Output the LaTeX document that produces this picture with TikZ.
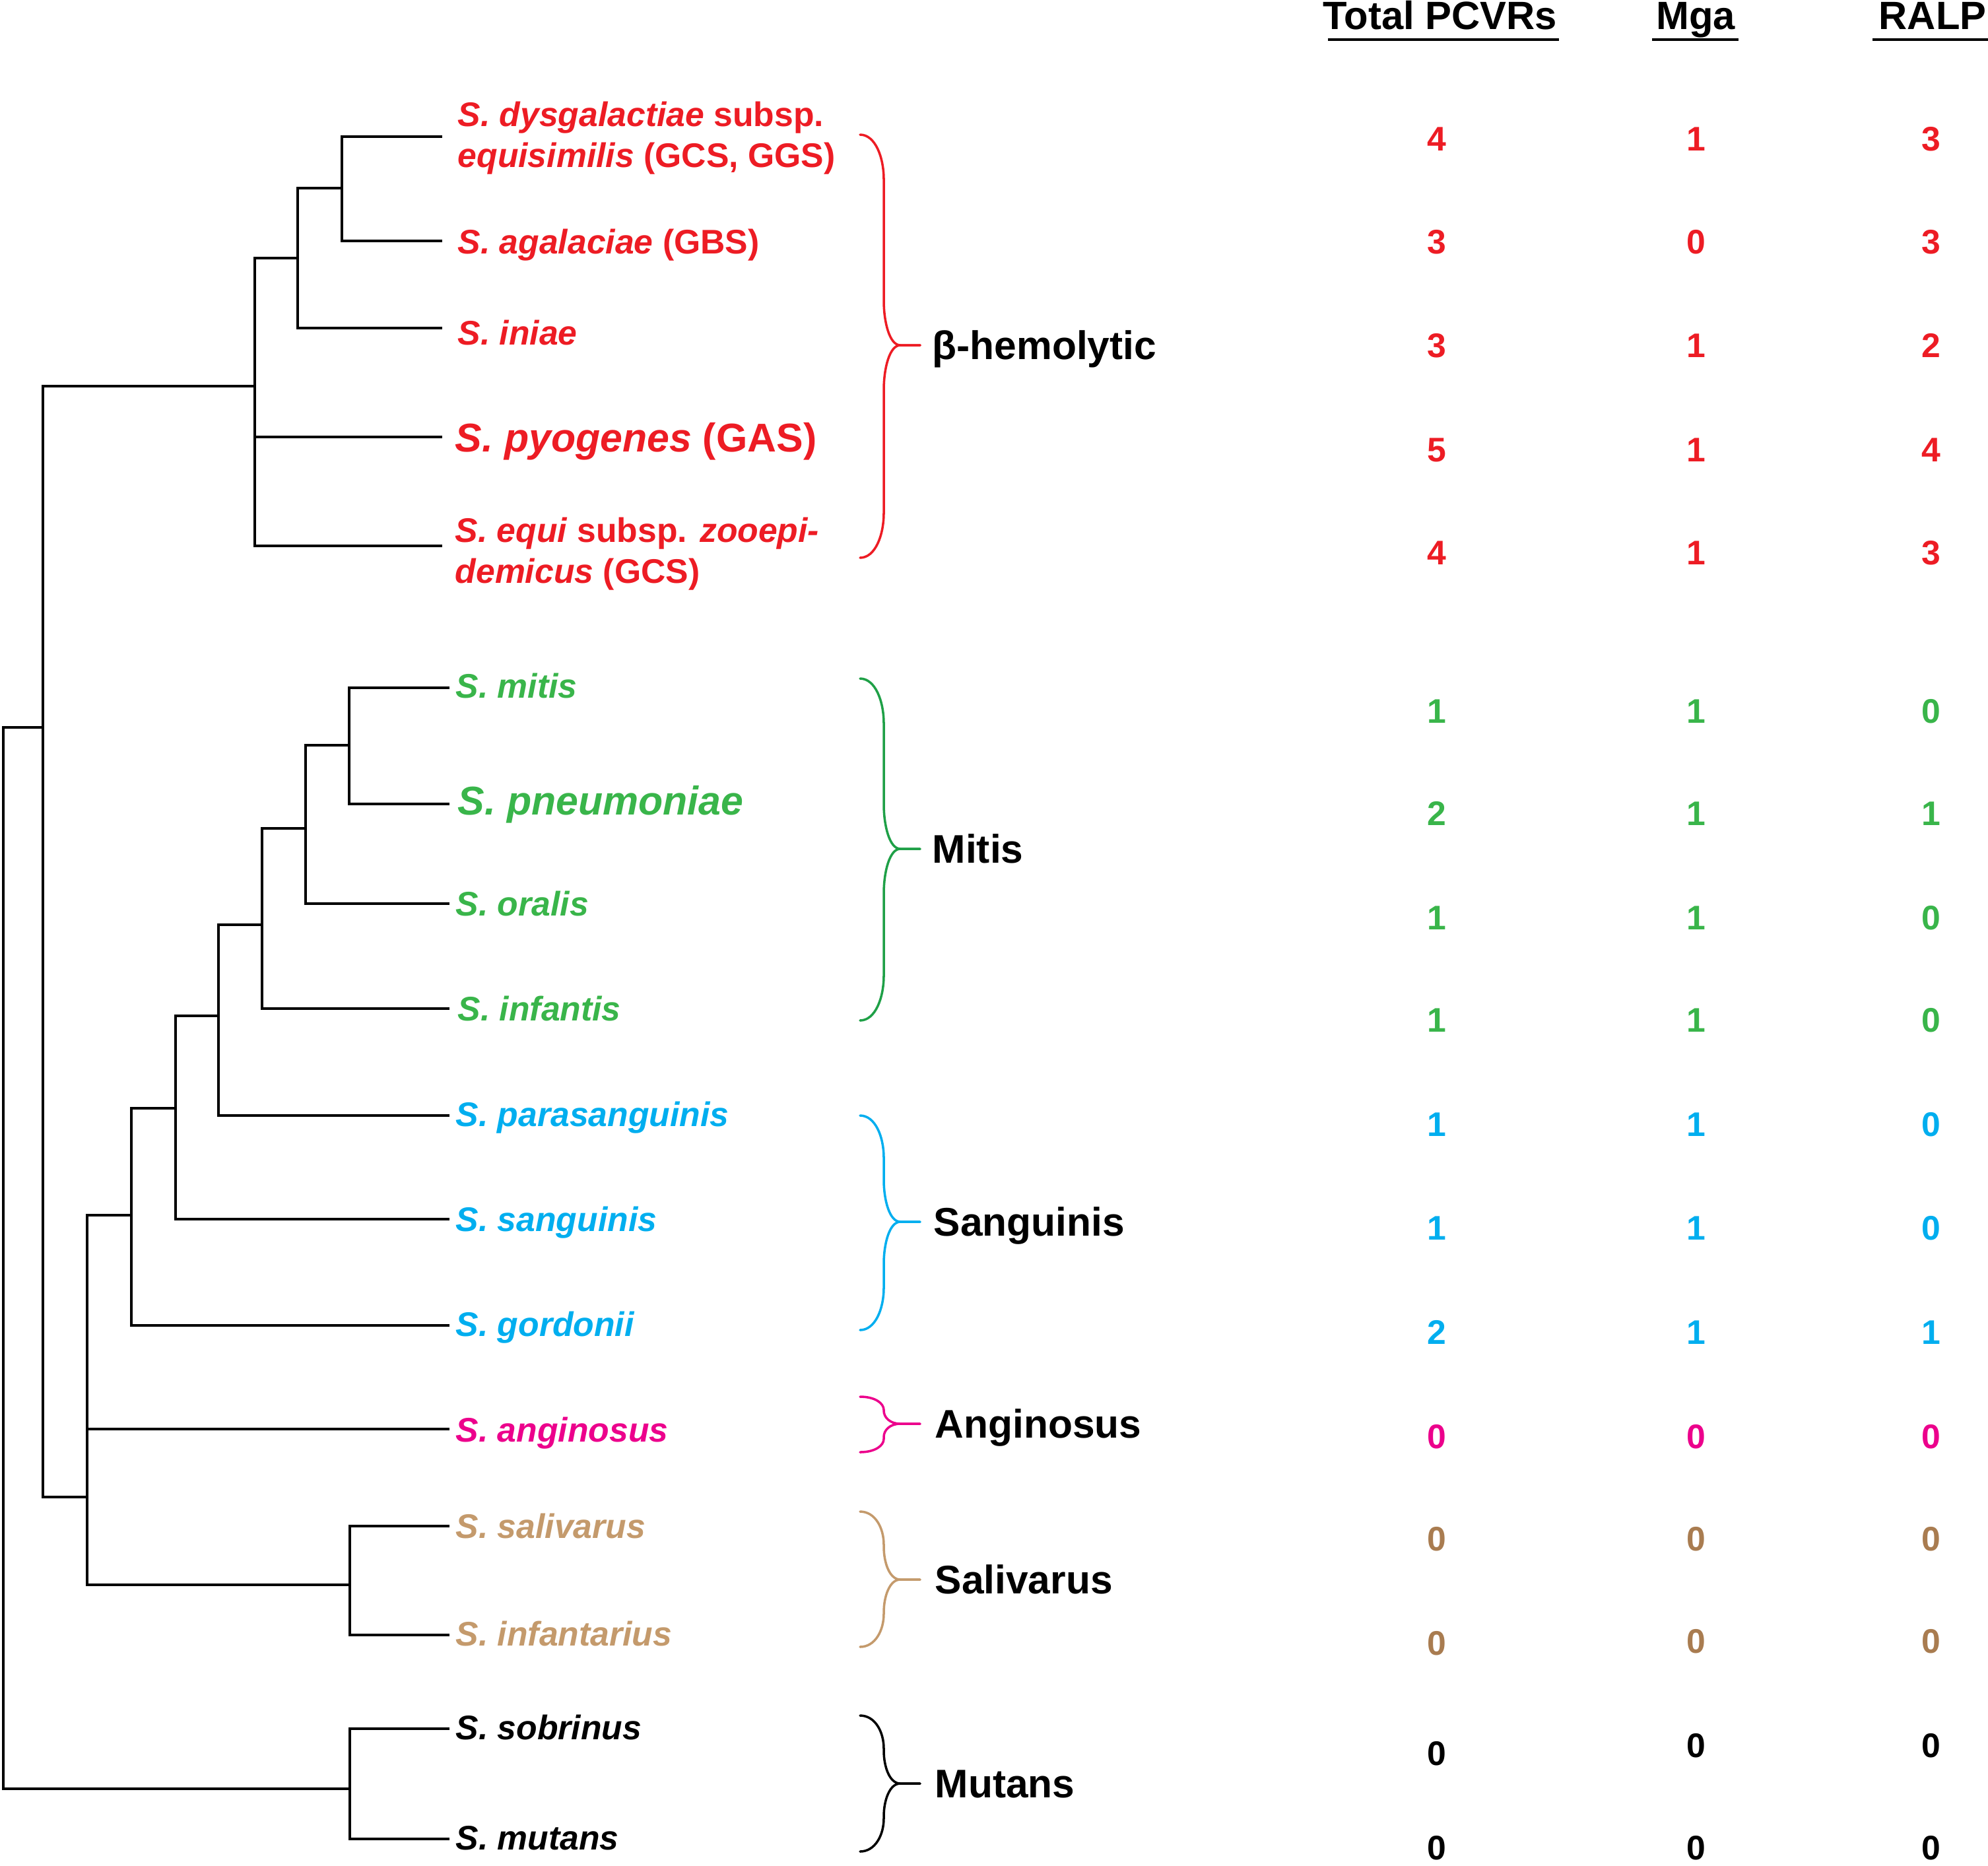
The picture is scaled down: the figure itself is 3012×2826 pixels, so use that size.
\documentclass[tikz,border=0pt]{standalone}
\usepackage{fontspec}
\setmainfont{Liberation Sans}
\definecolor{cred}{HTML}{ED1C24}
\definecolor{cgreen}{HTML}{39B54A}
\definecolor{cgreenb}{HTML}{1FA047}
\definecolor{cblue}{HTML}{00AEEF}
\definecolor{cmag}{HTML}{EC008C}
\definecolor{ctan}{HTML}{C49A6C}
\definecolor{ctann}{HTML}{A97C50}
\newcommand\fSp{\fontsize{14.7pt}{17.4pt}\selectfont\bfseries}
\newcommand\fSpBig{\fontsize{17.3pt}{20pt}\selectfont\bfseries}
\newcommand\fGrp{\fontsize{17.2pt}{20pt}\selectfont\bfseries}
\newcommand\fNum{\fontsize{14.7pt}{17.4pt}\selectfont\bfseries}
\newcommand\fHdr{\fontsize{17pt}{20pt}\selectfont\bfseries}
\newcommand\grpbrace[5]{%
 \draw[brc,#1] (1303,#2) .. controls (1326,#2) and (1339,{#2+#5}) .. (1339,{#2+2*#5}) -- (1339,{#3-2*#5}) .. controls (1339,{#3-#5}) and (1348,#3) .. (1364,#3) -- (1394,#3);
 \draw[brc,#1] (1303,#4) .. controls (1326,#4) and (1339,{#4-#5}) .. (1339,{#4-2*#5}) -- (1339,{#3+2*#5}) .. controls (1339,{#3+#5}) and (1348,#3) .. (1364,#3) -- (1394,#3);
}
\begin{document}
\begin{tikzpicture}[x=0.01cm, y=-0.01cm,
  tree/.style={line width=1.15pt, line cap=rect},
  brc/.style={line width=1.0pt, line cap=round},
  sp/.style={anchor=west, inner sep=0pt, text height=10.2pt, text depth=0pt, font=\fSp},
  spml/.style={anchor=base west, inner sep=0pt, align=left, font=\fSp},
  spbig/.style={anchor=west, inner sep=0pt, text height=12pt, text depth=0pt, font=\fSpBig},
  grp/.style={anchor=west, inner sep=0pt, text height=12pt, text depth=0pt, font=\fGrp},
  num/.style={anchor=center, inner sep=0pt, text height=10.2pt, text depth=0pt, font=\fNum},
  hdr/.style={anchor=base, inner sep=0pt, font=\fHdr},
  uline/.style={line width=1.2pt}]
\useasboundingbox (0,0) rectangle (3012,2826);
\fill[white] (0,0) rectangle (3012,2826);

% ---- headers
\node[hdr] (h1) at (2182,44) {Total PCVRs};
\node[hdr] (h2) at (2569,44) {Mga};
\node[hdr,anchor=base west] (h3) at (2846,44) {RALP};
\draw[uline] (2012,60) -- (2362,60);
\draw[uline] (2503,60) -- (2634,60);
\draw[uline] (2837,60) -- (3012,60);

% ---- leaf ends
\coordinate (l1) at (668,207);
\coordinate (l2) at (668,365);
\coordinate (l3) at (668,497);
\coordinate (l4) at (668,662);
\coordinate (l5) at (668,827);
\coordinate (l6) at (679,1042);
\coordinate (l7) at (679,1218);
\coordinate (l8) at (679,1369);
\coordinate (l9) at (679,1528);
\coordinate (l10) at (679,1690);
\coordinate (l11) at (679,1847);
\coordinate (l12) at (679,2008);
\coordinate (l13) at (679,2165);
\coordinate (l14) at (679,2312);
\coordinate (l15) at (679,2477);
\coordinate (l16) at (679,2619);
\coordinate (l17) at (679,2786);
% ---- internal nodes
\coordinate (nA) at (518,285);
\coordinate (nB) at (451,391);
\coordinate (nC) at (386,585);
\coordinate (nD) at (529,1129);
\coordinate (nE) at (463,1255);
\coordinate (nF) at (397,1401);
\coordinate (nG) at (331,1539);
\coordinate (nH) at (266,1679);
\coordinate (nI) at (199,1841);
\coordinate (nJ) at (530,2401);
\coordinate (nK) at (132,2268);
\coordinate (nL) at (65,1102);
\coordinate (nM) at (530,2710);
\coordinate (nR) at (5,1900);

\draw[tree] (nA) |- (l1) (nA) |- (l2);
\draw[tree] (nB) |- (nA) (nB) |- (l3);
\draw[tree] (nC) |- (nB) (nC) |- (l4) (nC) |- (l5);
\draw[tree] (nD) |- (l6) (nD) |- (l7);
\draw[tree] (nE) |- (nD) (nE) |- (l8);
\draw[tree] (nF) |- (nE) (nF) |- (l9);
\draw[tree] (nG) |- (nF) (nG) |- (l10);
\draw[tree] (nH) |- (nG) (nH) |- (l11);
\draw[tree] (nI) |- (nH) (nI) |- (l12);
\draw[tree] (nJ) |- (l14) (nJ) |- (l15);
\draw[tree] (nK) |- (nI) (nK) |- (l13) (nK) |- (nJ);
\draw[tree] (nL) |- (nC) (nL) |- (nK);
\draw[tree] (nM) |- (l16) (nM) |- (l17);
\draw[tree] (nR) |- (nL) (nR) |- (nM);

% ---- species labels
\node[spml,text=cred] (s1) at (693,253) {\textit{S. dysgalactiae} subsp.\\\textit{equisimilis} (GCS, GGS)};
\node[sp,text=cred] (s2) at (693,367) {\textit{S. agalaciae} (GBS)};
\node[sp,text=cred] (s3) at (693,505) {\textit{S. iniae}};
\node[spbig,text=cred] (s4) at (689,663) {\textit{S. pyogenes} (GAS)};
\node[spml,text=cred] (s5) at (689,883) {\textit{S. equi} subsp. \textit{zooepi-}\\\textit{demicus} (GCS)};
\node[sp,text=cgreen] (s6) at (690,1040) {\textit{S. mitis}};
\node[spbig,text=cgreen] (s7) at (693,1213) {\textit{S. pneumoniae}};
\node[sp,text=cgreen] (s8) at (690,1370) {\textit{S. oralis}};
\node[sp,text=cgreen] (s9) at (693,1529) {\textit{S. infantis}};
\node[sp,text=cblue] (s10) at (690,1689) {\textit{S. parasanguinis}};
\node[sp,text=cblue] (s11) at (690,1848) {\textit{S. sanguinis}};
\node[sp,text=cblue] (s12) at (690,2007) {\textit{S. gordonii}};
\node[sp,text=cmag] (s13) at (690,2167) {\textit{S. anginosus}};
\node[sp,text=ctan] (s14) at (690,2313) {\textit{S. salivarus}};
\node[sp,text=ctan] (s15) at (690,2476) {\textit{S. infantarius}};
\node[sp,text=black] (s16) at (690,2618) {\textit{S. sobrinus}};
\node[sp,text=black] (s17) at (690,2785) {\textit{S. mutans}};

% ---- braces
\grpbrace{cred}{204}{523}{845}{34}
\grpbrace{cgreenb}{1028}{1286}{1546}{34}
\grpbrace{cblue}{1690}{1851}{2015}{32}
\grpbrace{cmag}{2116}{2157}{2200}{10}
\grpbrace{ctan}{2290}{2393}{2495}{25}
\grpbrace{black}{2599}{2702}{2805}{25}

% ---- group labels
\node[grp] (g1) at (1412,523) {β-hemolytic};
\node[grp] (g2) at (1412,1286) {Mitis};
\node[grp] (g3) at (1414,1851) {Sanguinis};
\node[grp] (g4) at (1416,2157) {Anginosus};
\node[grp] (g5) at (1416,2393) {Salivarus};
\node[grp] (g6) at (1416,2702) {Mutans};

% ---- counts
\foreach \ya/\yb/\c/\a/\b/\d [count=\i] in {
 211/211/cred/4/1/3, 367/367/cred/3/0/3, 524/524/cred/3/1/2, 682/682/cred/5/1/4, 838/838/cred/4/1/3,
 1078/1078/cgreen/1/1/0, 1233/1233/cgreen/2/1/1, 1391/1391/cgreen/1/1/0, 1546/1546/cgreen/1/1/0,
 1704/1704/cblue/1/1/0, 1861/1861/cblue/1/1/0, 2019/2019/cblue/2/1/1,
 2177/2177/cmag/0/0/0, 2332/2332/ctann/0/0/0, 2490/2487/ctann/0/0/0,
 2657/2645/black/0/0/0, 2800/2800/black/0/0/0}
{
 \node[num,text=\c] (pc\i) at (2177,\ya) {\a};
 \node[num,text=\c] (mg\i) at (2570,\yb) {\b};
 \node[num,text=\c] (ra\i) at (2926,\yb) {\d};
}
\end{tikzpicture}
\end{document}
